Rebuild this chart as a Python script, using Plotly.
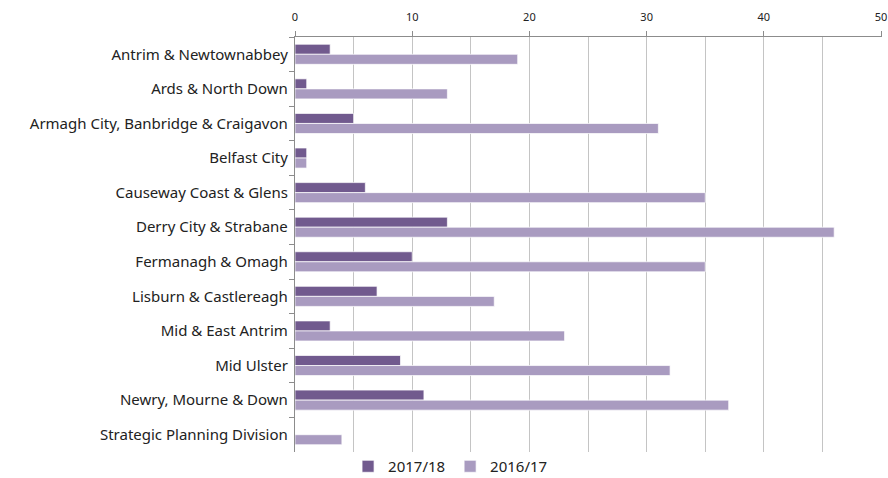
import plotly.graph_objects as go

categories = [
    "Antrim & Newtownabbey",
    "Ards & North Down",
    "Armagh City, Banbridge & Craigavon",
    "Belfast City",
    "Causeway Coast & Glens",
    "Derry City & Strabane",
    "Fermanagh & Omagh",
    "Lisburn & Castlereagh",
    "Mid & East Antrim",
    "Mid Ulster",
    "Newry, Mourne & Down",
    "Strategic Planning Division",
]
values_2017_18 = [3, 1, 5, 1, 6, 13, 10, 7, 3, 9, 11, 0]
values_2016_17 = [19, 13, 31, 1, 35, 46, 35, 17, 23, 32, 37, 4]
x_ticks = [0, 10, 20, 30, 40, 50]

FONT = "Noto Sans"
fig = go.Figure()
fig.add_trace(go.Bar(
    y=categories, x=values_2017_18, name="2017/18", orientation="h",
    marker=dict(color="#715a8e", line=dict(color="rgba(255,255,255,0.7)", width=1)),
))
fig.add_trace(go.Bar(
    y=categories, x=values_2016_17, name="2016/17", orientation="h",
    marker=dict(color="#a99bc0", line=dict(color="rgba(255,255,255,0.7)", width=1)),
))

fig.update_layout(
    width=888, height=478,
    margin=dict(l=295, r=6, t=37, b=26, autoexpand=False),
    paper_bgcolor="white", plot_bgcolor="white",
    barmode="group", bargap=0.42, bargroupgap=0,
    font=dict(family=FONT, size=14, color="#222222"),
    showlegend=True,
    legend=dict(orientation="h", x=0.265, xanchor="center", y=-0.035, yanchor="middle",
                bgcolor="rgba(0,0,0,0)",
                font=dict(size=15, color="#222222"), traceorder="normal",
                itemwidth=30, tracegroupgap=0),
)
fig.update_xaxes(
    side="top", range=[0, 50.08], tickvals=x_ticks, ticktext=[str(v) for v in x_ticks],
    showgrid=True, gridcolor="#c4c4c4", gridwidth=1.3,
    minor=dict(dtick=5, tick0=0, showgrid=True, gridcolor="#c4c4c4", gridwidth=1.3),
    showline=True, linecolor="#8c8c8c", linewidth=1.3,
    ticks="outside", ticklen=5, tickcolor="#8c8c8c", ticklabelstandoff=5,
    tickfont=dict(size=11, color="#222222"), zeroline=False, automargin=False,
)
fig.update_yaxes(
    autorange="reversed", type="category",
    showline=True, linecolor="#8c8c8c", linewidth=1.3,
    ticks="outside", ticklen=5, tickcolor="#8c8c8c", tickson="boundaries",
    showgrid=False, ticklabelstandoff=3, automargin=False,
    tickfont=dict(size=15, color="#222222"),
)

fig.write_html(
    "out.html",
    config={"displayModeBar": False},
    post_script="document.body.style.margin='0';document.body.style.overflow='hidden';",
)
